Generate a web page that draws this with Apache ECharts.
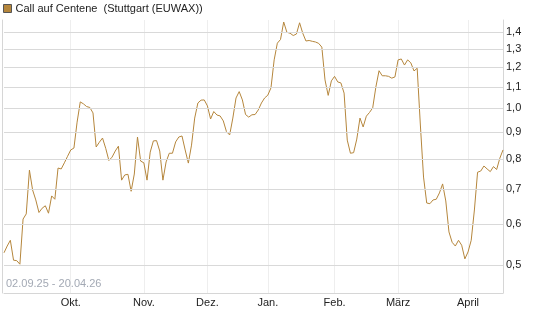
<!DOCTYPE html>
<html lang="de">
<head>
  <meta charset="UTF-8">
  <title>Call auf Centene</title>
  <script src="https://cdn.jsdelivr.net/npm/echarts@6/dist/echarts.min.js"></script>
  <style>
    html, body { margin: 0; padding: 0; background: #fff; }
    #main { width: 545px; height: 327px; }
  </style>
</head>
<body>
<div id="main"></div>
<script>
  // Kurse (Handelstage 02.09.25 - 20.04.26)
  var prices = [
    0.528, 0.544, 0.558, 0.511, 0.510, 0.502, 0.613, 0.627, 0.761, 0.697,
    0.667, 0.631, 0.643, 0.650, 0.629, 0.679, 0.669, 0.768, 0.765, 0.786,
    0.809, 0.832, 0.839, 0.941, 1.029, 1.020, 1.008, 1.004, 0.980, 0.843,
    0.861, 0.877, 0.838, 0.794, 0.806, 0.828, 0.846, 0.728, 0.745, 0.747,
    0.693, 0.748, 0.881, 0.792, 0.786, 0.728, 0.824, 0.866, 0.867, 0.828,
    0.728, 0.789, 0.820, 0.820, 0.862, 0.881, 0.885, 0.832, 0.785, 0.850,
    0.958, 1.024, 1.037, 1.038, 1.011, 0.954, 0.986, 0.971, 0.967, 0.946,
    0.902, 0.889, 0.958, 1.047, 1.077, 1.038, 0.973, 0.962, 0.972, 0.973,
    0.993, 1.024, 1.047, 1.060, 1.095, 1.239, 1.334, 1.356, 1.465, 1.400,
    1.394, 1.380, 1.389, 1.460, 1.394, 1.347, 1.350, 1.345, 1.341, 1.333,
    1.311, 1.134, 1.059, 1.129, 1.152, 1.124, 1.119, 1.070, 0.869, 0.820,
    0.822, 0.873, 0.958, 0.921, 0.966, 0.982, 1.002, 1.099, 1.181, 1.155,
    1.155, 1.152, 1.143, 1.149, 1.239, 1.244, 1.211, 1.239, 1.223, 1.180,
    1.194, 0.929, 0.738, 0.658, 0.656, 0.667, 0.669, 0.688, 0.716, 0.664,
    0.579, 0.553, 0.544, 0.558, 0.546, 0.514, 0.530, 0.558, 0.638, 0.754,
    0.758, 0.775, 0.765, 0.756, 0.773, 0.763, 0.802, 0.832
  ];
  var yTicks = [0.5, 0.6, 0.7, 0.8, 0.9, 1.0, 1.1, 1.2, 1.3, 1.4];
  var monthNames = ['Jan.', 'Feb.', 'März', 'April', 'Mai', 'Juni', 'Juli', 'Aug.', 'Sep.', 'Okt.', 'Nov.', 'Dez.'];
  var holidays = ['2025-12-24', '2025-12-25', '2025-12-26', '2025-12-31', '2026-01-01', '2026-04-03', '2026-04-06'];

  // Handelstage (Mo-Fr ohne Feiertage)
  var days = [];
  var d = Date.UTC(2025, 8, 2), end = Date.UTC(2026, 3, 20);
  for (; d <= end; d += 86400000) {
    var dt = new Date(d);
    var wd = dt.getUTCDay();
    var s = dt.toISOString().slice(0, 10);
    if (wd === 0 || wd === 6 || holidays.indexOf(s) >= 0) continue;
    days.push(s);
  }

  function monthStart(idx) {
    if (idx === 0) return false;
    return days[idx].slice(5, 7) !== days[idx - 1].slice(5, 7);
  }

  var chart = echarts.init(document.getElementById('main'));
  chart.setOption({
    animation: false,
    textStyle: { fontFamily: 'Liberation Sans, Arial, sans-serif' },
    title: {
      text: '02.09.25 - 20.04.26',
      left: 6,
      top: 278,
      padding: 0,
      textStyle: { fontSize: 11, fontWeight: 'normal', color: '#a3a9b4' }
    },
    legend: {
      left: 3,
      top: 3,
      padding: 0,
      icon: 'rect',
      itemWidth: 8,
      itemHeight: 8,
      itemGap: 4,
      itemStyle: { borderColor: '#555', borderWidth: 1 },
      textStyle: { fontSize: 11, color: '#222', padding: [0, 0, 0, -1] },
      data: ['Call auf Centene  (Stuttgart (EUWAX))']
    },
    grid: { left: 4, right: 42, top: 20, bottom: 34 },
    xAxis: {
      type: 'category',
      data: days,
      boundaryGap: false,
      axisLine: { lineStyle: { color: '#d6d6d6' } },
      axisTick: { show: false },
      axisLabel: {
        interval: function (idx) { return monthStart(idx); },
        formatter: function (v) { return monthNames[parseInt(v.slice(5, 7), 10) - 1]; },
        fontSize: 11,
        color: '#222',
        margin: 4
      },
      splitLine: {
        show: true,
        interval: function (idx) { return monthStart(idx); },
        lineStyle: { color: '#eeeeee' }
      }
    },
    yAxis: [{
      type: 'log',
      position: 'right',
      min: 0.442,
      max: 1.478,
      axisLine: { show: true, lineStyle: { color: '#d6d6d6' } },
      axisTick: { show: false },
      axisLabel: { show: false },
      splitLine: { show: false }
    }, {
      type: 'value',
      position: 'left',
      offset: 2,
      axisLine: { show: true, lineStyle: { color: '#d6d6d6' } },
      axisTick: { show: false },
      axisLabel: { show: false },
      splitLine: { show: false }
    }],
    series: [{
      name: 'Call auf Centene  (Stuttgart (EUWAX))',
      type: 'line',
      data: prices,
      yAxisIndex: 0,
      showSymbol: false,
      color: '#b5863c',
      lineStyle: { width: 1, color: '#b5863c' },
      z: 3,
      markLine: {
        silent: true,
        symbol: 'none',
        animation: false,
        lineStyle: { color: '#d9d9d9', width: 1, type: 'solid' },
        label: {
          position: 'end',
          distance: 3,
          fontSize: 11,
          color: '#222',
          formatter: function (p) { return p.value.toFixed(1).replace('.', ','); }
        },
        data: yTicks.map(function (v) { return { yAxis: v }; })
      }
    }]
  });
</script>
</body>
</html>
